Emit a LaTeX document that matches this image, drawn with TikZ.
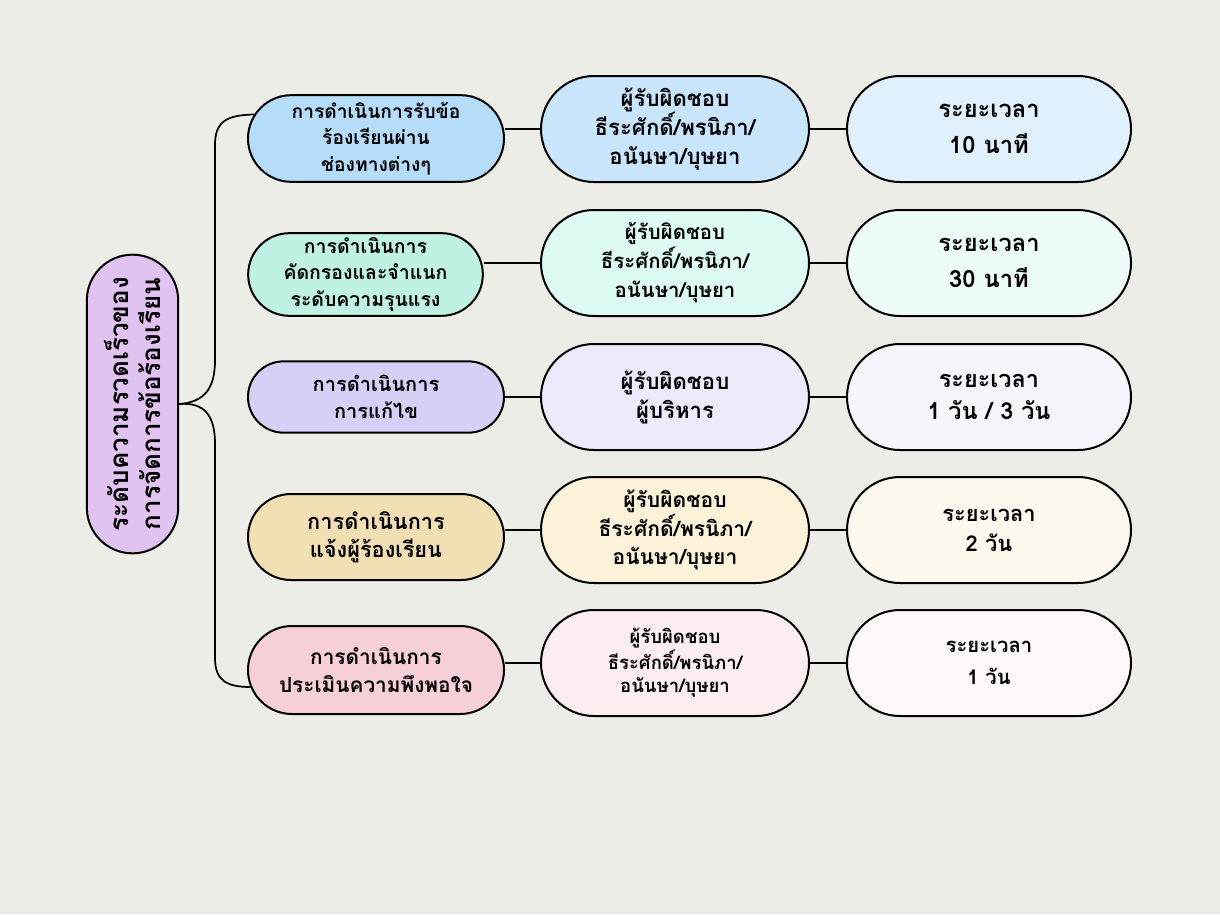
\documentclass[tikz,border=0pt]{standalone}
\usepackage{fontspec}
\newfontfamily\thaifont[Script=Thai]{Loma}
\usepackage{tikz}
\usetikzlibrary{calc}
\usetikzlibrary{shapes.misc}
\definecolor{bgcol}{HTML}{EDEDE8}
\definecolor{rootcol}{HTML}{E0C3F0}
\definecolor{blueA}{HTML}{B5DCF9}
\definecolor{blueB}{HTML}{C9E5FB}
\definecolor{blueC}{HTML}{E0F0FC}
\definecolor{mintA}{HTML}{BFF2E4}
\definecolor{mintB}{HTML}{DDFBF4}
\definecolor{mintC}{HTML}{EDFCF9}
\definecolor{lilacA}{HTML}{D6D0F6}
\definecolor{lilacB}{HTML}{ECEAFB}
\definecolor{lilacC}{HTML}{F7F6FD}
\definecolor{sandA}{HTML}{F2DFB3}
\definecolor{sandB}{HTML}{FCF1D9}
\definecolor{sandC}{HTML}{FDF9EF}
\definecolor{roseA}{HTML}{F6D0D6}
\definecolor{roseB}{HTML}{FCEEEE}
\definecolor{roseC}{HTML}{FEF9F8}
\tikzset{pill/.style={rounded rectangle,draw=black,line width=1.5pt,inner sep=0pt,align=center},
    colA/.style={pill,minimum width=192pt,minimum height=65pt},
    colB/.style={pill,minimum width=201pt,minimum height=79.5pt},
    colC/.style={pill,minimum width=213pt,minimum height=79.5pt},
    link/.style={line width=1.3pt}}

\begin{document}
\begin{tikzpicture}[x=0.75pt,y=0.75pt,yscale=-1,xscale=1]
%Background
\fill[bgcol] (0,0) rectangle (1220,914);
\useasboundingbox (0,0) rectangle (1220,914);

%Root
\node[pill,rotate=90,minimum width=224pt,minimum height=68.5pt,fill=rootcol,font=\thaifont\bfseries\fontsize{19.5}{24}\selectfont] (root) at (132.5,404) {ระดับความรวดเร็วของ\\การจัดการข้อร้องเรียน};

%Steps
\node[colA,fill=blueA,font=\thaifont\bfseries\fontsize{14.4}{20}\selectfont] (stepA1) at (376,138.5) {การดำเนินการรับข้อ\\ร้องเรียนผ่าน\\ช่องทางต่างๆ};
\node[colA,minimum width=176pt,minimum height=62pt,fill=mintA,font=\thaifont\bfseries\fontsize{14.6}{20}\selectfont] (stepA2) at (365.5,274.5) {การดำเนินการ\\คัดกรองและจำแนก\\ระดับความรุนแรง};
\node[colA,minimum height=53.5pt,fill=lilacA,font=\thaifont\bfseries\fontsize{15}{20}\selectfont] (stepA3) at (376,397) {การดำเนินการ\\การแก้ไข};
\node[colA,minimum height=64.5pt,fill=sandA,font=\thaifont\bfseries\fontsize{16.3}{21}\selectfont] (stepA4) at (376,537) {การดำเนินการ\\แจ้งผู้ร้องเรียน};
\node[colA,minimum height=66pt,fill=roseA,font=\thaifont\bfseries\fontsize{15.6}{21}\selectfont] (stepA5) at (376,670) {การดำเนินการ\\ประเมินความพึงพอใจ};

%Owners
\node[colB,fill=blueB,font=\thaifont\bfseries\fontsize{16.6}{21.75}\selectfont] (whoB1) at (675,129) {ผู้รับผิดชอบ\\ธีระศักดิ์/พรนิภา/\\อนันษา/บุษยา};
\node[colB,fill=mintB,font=\thaifont\bfseries\fontsize{15.3}{21.75}\selectfont] (whoB2) at (675,263) {ผู้รับผิดชอบ\\ธีระศักดิ์/พรนิภา/\\อนันษา/บุษยา};
\node[colB,fill=lilacB,font=\thaifont\bfseries\fontsize{16.6}{21.75}\selectfont] (whoB3) at (675,397) {ผู้รับผิดชอบ\\ผู้บริหาร};
\node[colB,fill=sandB,font=\thaifont\bfseries\fontsize{15.8}{21.5}\selectfont] (whoB4) at (675,530) {ผู้รับผิดชอบ\\ธีระศักดิ์/พรนิภา/\\อนันษา/บุษยา};
\node[colB,fill=roseB,font=\thaifont\bfseries\fontsize{13.9}{17.5}\selectfont] (whoB5) at (675,663) {ผู้รับผิดชอบ\\ธีระศักดิ์/พรนิภา/\\อนันษา/บุษยา};

%Times
\node[colC,fill=blueC,font=\thaifont\bfseries\fontsize{17.8}{27.5}\selectfont] (timeC1) at (989,129) {ระยะเวลา\\10 นาที};
\node[colC,fill=mintC,font=\thaifont\bfseries\fontsize{17.8}{27.5}\selectfont] (timeC2) at (989,263) {ระยะเวลา\\30 นาที};
\node[colC,fill=lilacC,font=\thaifont\bfseries\fontsize{17.6}{24}\selectfont] (timeC3) at (989,397) {ระยะเวลา\\1 วัน / 3 วัน};
\node[colC,fill=sandC,font=\thaifont\bfseries\fontsize{16.4}{22.5}\selectfont] (timeC4) at (989,530) {ระยะเวลา\\2 วัน};
\node[colC,fill=roseC,font=\thaifont\bfseries\fontsize{15.2}{24.5}\selectfont] (timeC5) at (989,663) {ระยะเวลา\\1 วัน};

%Straight Lines
\draw[link] (whoB1.west) -- (whoB1.west -| stepA1.east);
\draw[link] (whoB2.west) -- (whoB2.west -| stepA2.east);
\draw[link] (whoB3.west) -- (whoB3.west -| stepA3.east);
\draw[link] (whoB4.west) -- (whoB4.west -| stepA4.east);
\draw[link] (whoB5.west) -- (whoB5.west -| stepA5.east);
\draw[link] (whoB1.east) -- (timeC1.west);
\draw[link] (whoB2.east) -- (timeC2.west);
\draw[link] (whoB3.east) -- (timeC3.west);
\draw[link] (whoB4.east) -- (timeC4.west);
\draw[link] (whoB5.east) -- (timeC5.west);

%Curve Lines
\draw[link] (root.south) .. controls (205,402) and (215,388) .. (215,360) -- (215,145) .. controls (215,122) and (226,115) .. ($(stepA1.west)+(7,-24)$);
\draw[link] (root.south) .. controls (205,402) and (215,416) .. (215,444) -- (215,658) .. controls (215,680) and (226,687) .. ($(stepA5.west)+(3.5,17)$);

\end{tikzpicture}
\end{document}
